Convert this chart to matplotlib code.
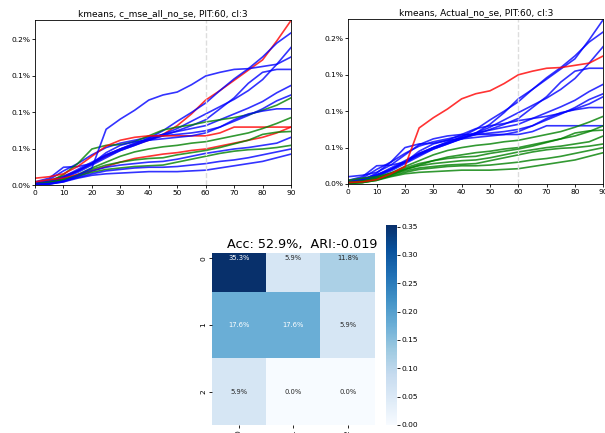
import numpy as np
import matplotlib
matplotlib.use("Agg")
import matplotlib.pyplot as plt
from matplotlib.ticker import FuncFormatter, MultipleLocator
import seaborn as sns

days = np.arange(0, 91, 5)

# cumulative paths per asset, in units of 1e-3
s01 = [0.03, 0.07, 0.13, 0.20, 0.30, 0.40, 0.50, 0.56, 0.62, 0.70, 0.82, 0.98, 1.17, 1.30, 1.44, 1.58, 1.72, 1.98, 2.26]
s02 = [0.02, 0.05, 0.12, 0.22, 0.32, 0.42, 0.50, 0.57, 0.65, 0.75, 0.88, 1.00, 1.13, 1.30, 1.46, 1.60, 1.76, 1.95, 2.09]
s03 = [0.02, 0.05, 0.10, 0.18, 0.28, 0.38, 0.48, 0.55, 0.63, 0.70, 0.78, 0.88, 0.98, 1.08, 1.18, 1.30, 1.45, 1.66, 1.89]
s04 = [0.02, 0.06, 0.12, 0.20, 0.30, 0.40, 0.48, 0.55, 0.62, 0.68, 0.75, 0.82, 0.90, 1.05, 1.20, 1.40, 1.55, 1.59, 1.59]
s05 = [0.03, 0.08, 0.20, 0.30, 0.42, 0.52, 0.58, 0.62, 0.66, 0.70, 0.74, 0.78, 0.82, 0.90, 0.98, 1.06, 1.15, 1.27, 1.37]
s06 = [0.05, 0.10, 0.25, 0.26, 0.30, 0.42, 0.50, 0.58, 0.64, 0.68, 0.70, 0.72, 0.75, 0.80, 0.88, 0.96, 1.05, 1.16, 1.24]
s07 = [0.02, 0.05, 0.15, 0.30, 0.50, 0.55, 0.56, 0.60, 0.68, 0.76, 0.80, 0.83, 0.87, 0.90, 0.93, 0.97, 1.03, 1.10, 1.20]
s08 = [0.10, 0.12, 0.16, 0.26, 0.40, 0.54, 0.62, 0.66, 0.68, 0.68, 0.68, 0.68, 0.68, 0.72, 0.80, 0.80, 0.80, 0.80, 0.80]
s09 = [0.02, 0.05, 0.10, 0.20, 0.30, 0.45, 0.55, 0.60, 0.62, 0.64, 0.66, 0.68, 0.72, 0.80, 0.90, 0.98, 1.02, 1.05, 1.05]
s10 = [0.01, 0.03, 0.07, 0.15, 0.24, 0.32, 0.40, 0.46, 0.50, 0.53, 0.55, 0.58, 0.60, 0.64, 0.68, 0.72, 0.78, 0.85, 0.93]
s11 = [0.05, 0.08, 0.10, 0.15, 0.20, 0.26, 0.32, 0.37, 0.40, 0.43, 0.45, 0.48, 0.50, 0.54, 0.58, 0.62, 0.66, 0.72, 0.80]
s12 = [0.02, 0.04, 0.08, 0.14, 0.22, 0.28, 0.32, 0.35, 0.37, 0.38, 0.42, 0.45, 0.48, 0.52, 0.57, 0.62, 0.70, 0.73, 0.74]
s13 = [0.01, 0.02, 0.05, 0.12, 0.20, 0.25, 0.28, 0.30, 0.32, 0.33, 0.36, 0.40, 0.44, 0.47, 0.50, 0.52, 0.55, 0.58, 0.66]
s14 = [0.02, 0.04, 0.08, 0.13, 0.18, 0.22, 0.24, 0.26, 0.27, 0.28, 0.32, 0.36, 0.40, 0.44, 0.47, 0.49, 0.50, 0.52, 0.55]
s15 = [0.01, 0.02, 0.06, 0.11, 0.16, 0.20, 0.22, 0.24, 0.25, 0.25, 0.26, 0.28, 0.30, 0.33, 0.35, 0.38, 0.42, 0.46, 0.50]
s16 = [0.01, 0.02, 0.05, 0.10, 0.14, 0.16, 0.17, 0.18, 0.19, 0.19, 0.19, 0.20, 0.21, 0.24, 0.27, 0.30, 0.33, 0.38, 0.43]
s17 = [0.02, 0.03, 0.06, 0.14, 0.24, 0.77, 0.91, 1.03, 1.17, 1.24, 1.28, 1.38, 1.50, 1.55, 1.59, 1.60, 1.63, 1.66, 1.76]

actual = [0, 0, 0, 0, 0, 0, 0, 0, 0, 1, 1, 1, 1, 1, 1, 1, 2]
cluster = [2, 0, 0, 0, 0, 0, 1, 2, 0, 1, 2, 1, 0, 1, 0, 0, 0]
ari = -0.019
pit = 60
colors = ["blue", "green", "red"]

series = np.array([s01, s02, s03, s04, s05, s06, s07, s08, s09,
                   s10, s11, s12, s13, s14, s15, s16, s17]) / 1000.0

cm = np.zeros((3, 3))
for a, c in zip(actual, cluster):
    cm[a, c] += 1
cm = cm / len(actual)
acc = np.trace(cm)

fig = plt.figure(figsize=(6.05, 4.33), dpi=100)
ax1 = fig.add_axes([0.0579, 0.5716, 0.4231, 0.3811])
ax2 = fig.add_axes([0.5757, 0.5751, 0.4215, 0.3799])

pct = FuncFormatter(lambda v, _: f"{v:.1%}")
for ax, labels, name in [(ax1, cluster, "c_mse_all_no_se"), (ax2, actual, "Actual_no_se")]:
    for y, lab in zip(series, labels):
        ax.plot(days, y, color=colors[lab], lw=1.2, alpha=0.8)
    ax.axvline(pit, color="#dddddd", ls="--", lw=1)
    ax.set_xlim(0, 90)
    ax.set_ylim(0, series.max())
    ax.yaxis.set_major_locator(MultipleLocator(0.0005))
    ax.yaxis.set_major_formatter(pct)
    ax.xaxis.set_major_locator(MultipleLocator(10))
    ax.tick_params(labelsize=5.4, length=2, width=0.6, pad=1.5)
    for sp in ax.spines.values():
        sp.set_linewidth(0.6)
    ax.set_title(f"kmeans, {name}, PIT:{pit}, cl:3", fontsize=6.5, pad=3)

ax3 = fig.add_axes([0.3496, 0.01848, 0.2702, 0.3972])
cax = fig.add_axes([0.6372, 0.01848, 0.019, 0.4619])
sns.heatmap(cm, annot=True, fmt=".1%", cmap="Blues", ax=ax3, cbar_ax=cax,
            annot_kws={"fontsize": 4.9})
ax3.set_ylim(3, 0.42)
ax3.tick_params(labelsize=5.4, length=2, width=0.6, pad=1.5)
plt.setp(ax3.get_yticklabels(), rotation=90)
plt.setp(ax3.get_xticklabels(), rotation=90)
cax.tick_params(labelsize=5.4, length=2, width=0.6, pad=1.5)

fig.text(0.5, 1 - 244 / 433, f"Acc: {acc:.1%},  ARI:{ari:.3f}",
         ha="center", va="center", fontsize=9.2)

fig.savefig("out.png", dpi=100)
